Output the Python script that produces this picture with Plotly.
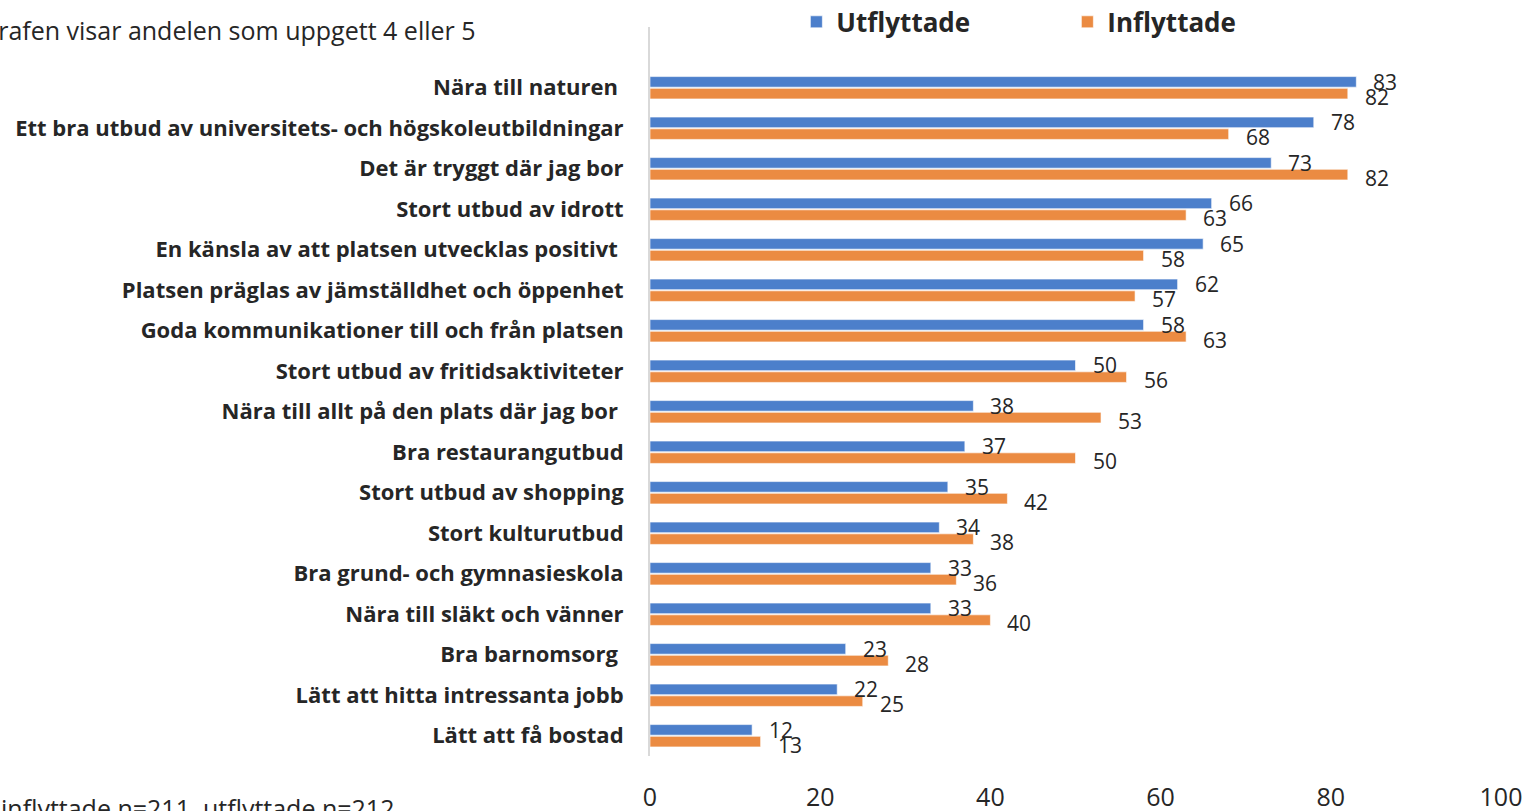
import plotly.graph_objects as go

categories = [
    "Nära till naturen\u00a0",
    "Ett bra utbud av universitets- och högskoleutbildningar",
    "Det är tryggt där jag bor",
    "Stort utbud av idrott",
    "En känsla av att platsen utvecklas positivt\u00a0",
    "Platsen präglas av jämställdhet och öppenhet",
    "Goda kommunikationer till och från platsen",
    "Stort utbud av fritidsaktiviteter",
    "Nära till allt på den plats där jag bor\u00a0",
    "Bra restaurangutbud",
    "Stort utbud av shopping",
    "Stort kulturutbud",
    "Bra grund- och gymnasieskola",
    "Nära till släkt och vänner",
    "Bra barnomsorg\u00a0",
    "Lätt att hitta intressanta jobb",
    "Lätt att få bostad",
]
utflyttade = [83, 78, 73, 66, 65, 62, 58, 50, 38, 37, 35, 34, 33, 33, 23, 22, 12]
inflyttade = [82, 68, 82, 63, 58, 57, 63, 56, 53, 50, 42, 38, 36, 40, 28, 25, 13]
x_ticks = [0, 20, 40, 60, 80, 100]

BLUE = "#4C7FCB"
ORANGE = "#EB8B42"
TXT = "#262626"
FONT = "Open Sans"

fig = go.Figure()
fig.add_trace(go.Bar(
    y=categories, x=utflyttade, orientation="h", name="<b>Utflyttade</b>",
    marker=dict(color=BLUE, line=dict(color="rgba(255,255,255,0.6)", width=1)),
))
fig.add_trace(go.Bar(
    y=categories, x=inflyttade, orientation="h", name="<b>Inflyttade</b>",
    marker=dict(color=ORANGE, line=dict(color="rgba(255,255,255,0.6)", width=1)),
))

annotations = []
for cat, u, i in zip(categories, utflyttade, inflyttade):
    annotations.append(dict(x=u, y=cat, xref="x", yref="y", text=str(u), showarrow=False,
                            xanchor="left", yanchor="middle", xshift=15, yshift=6,
                            font=dict(family=FONT, size=21, color=TXT)))
    annotations.append(dict(x=i, y=cat, xref="x", yref="y", text=str(i), showarrow=False,
                            xanchor="left", yanchor="middle", xshift=15, yshift=-9,
                            font=dict(family=FONT, size=21, color=TXT)))

annotations.append(dict(x=-0.2021, y=0.9959, xref="paper", yref="paper",
                        text="Grafen visar andelen som uppgett 4 eller 5", showarrow=False,
                        xanchor="right", yanchor="middle",
                        font=dict(family=FONT, size=25, color=TXT)))
annotations.append(dict(x=-0.2985, y=-0.0713, xref="paper", yref="paper",
                        text="Bas: inflyttade n=211, utflyttade n=212", showarrow=False,
                        xanchor="right", yanchor="middle",
                        font=dict(family=FONT, size=25, color=TXT)))

fig.update_layout(
    width=1529, height=811,
    margin=dict(l=650, r=28, t=27, b=55, autoexpand=False),
    paper_bgcolor="white", plot_bgcolor="white",
    barmode="group", bargap=0.42, bargroupgap=0.1,
    font=dict(family=FONT, color=TXT),
    showlegend=True,
    legend=dict(orientation="h", x=0.172, xanchor="left", y=1.007, yanchor="middle",
                font=dict(family=FONT, size=26, color=TXT),
                entrywidth=226, entrywidthmode="pixels", traceorder="normal",
                bgcolor="rgba(0,0,0,0)"),
    annotations=annotations,
    xaxis=dict(range=[0, 100], tickvals=x_ticks, ticktext=[str(t) for t in x_ticks],
               showgrid=False, zeroline=False, showline=False, automargin=False,
               tickfont=dict(family=FONT, size=25, color=TXT),
               ticklabelstandoff=24),
    yaxis=dict(type="category", categoryorder="array", categoryarray=categories,
               range=[16.5, -1.5], showgrid=False, zeroline=False, automargin=False,
               showline=True, linecolor="#D9D9D9", linewidth=2,
               tickfont=dict(family=FONT, size=22, color=TXT, weight="bold"),
               ticklabelstandoff=20),
)

fig.write_html("out.html", config={"displayModeBar": False},
               post_script="document.body.style.margin='0';document.body.style.overflow='hidden';")
